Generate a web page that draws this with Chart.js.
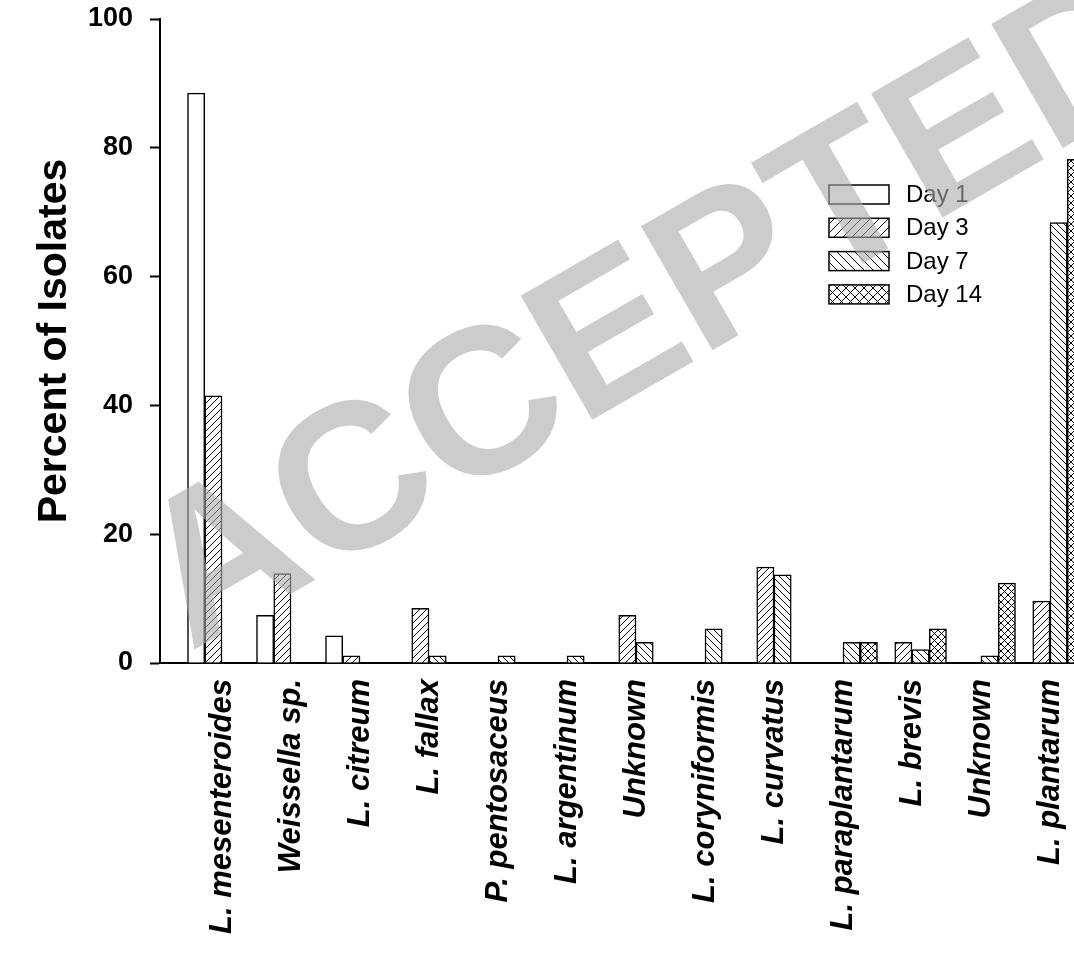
<!DOCTYPE html>
<html>
<head>
<meta charset="utf-8">
<script src="https://cdn.jsdelivr.net/npm/chart.js@4/dist/chart.umd.min.js"></script>
<style>
  html, body { margin: 0; padding: 0; background: #fff; overflow: hidden; }
  #wrap { position: relative; width: 1074px; height: 954px; }
</style>
</head>
<body>
<div id="wrap"><canvas id="c"></canvas></div>
<script>
// Isolate identities, percent of isolates per sampling day
const categories = [
  'L. mesenteroides', 'Weissella sp.', 'L. citreum', 'L. fallax',
  'P. pentosaceus', 'L. argentinum', 'Unknown', 'L. coryniformis',
  'L. curvatus', 'L. paraplantarum', 'L. brevis', 'Unknown', 'L. plantarum'
];
const seriesNames = ['Day 1', 'Day 3', 'Day 7', 'Day 14'];
const day1  = [88.5, 7.4, 4.2, null, null, null, null, null, null, null, null, null, null];
const day3  = [41.5, 13.9, 1.1, 8.5, null, null, 7.4, null, 14.9, null, 3.2, null, 9.6];
const day7  = [null, null, null, 1.1, 1.1, 1.1, 3.2, 5.3, 13.7, 3.2, 2.1, 1.1, 68.4];
const day14 = [null, null, null, null, null, null, null, null, null, 3.2, 5.3, 12.4, 78.2];
const yTickStep = 20;

const series = [day1, day3, day7, day14];
const FONT = "'Liberation Sans', Arial, Helvetica, sans-serif";

const canvas = document.getElementById('c');
const mainCtx = canvas.getContext('2d');

// Line hatch fills: 'up' = ////, 'down' = \\\\, 'cross' = xxxx
function hatch(kind, size) {
  if (kind === 'none') return '#ffffff';
  const t = document.createElement('canvas');
  t.width = t.height = size;
  const g = t.getContext('2d');
  g.fillStyle = '#fff';
  g.fillRect(0, 0, size, size);
  g.strokeStyle = '#000';
  g.lineWidth = 1;
  g.beginPath();
  if (kind === 'up' || kind === 'cross') {
    g.moveTo(-1, size + 1); g.lineTo(size + 1, -1);
    g.moveTo(-1, 1); g.lineTo(1, -1);
    g.moveTo(size - 1, size + 1); g.lineTo(size + 1, size - 1);
  }
  if (kind === 'down' || kind === 'cross') {
    g.moveTo(-1, -1); g.lineTo(size + 1, size + 1);
    g.moveTo(size - 1, -1); g.lineTo(size + 1, 1);
    g.moveTo(-1, size - 1); g.lineTo(1, size + 1);
  }
  g.stroke();
  return mainCtx.createPattern(t, 'repeat');
}

const kinds = ['none', 'up', 'down', 'cross'];
const barFills = kinds.map(k => hatch(k, 7));
const keyFills = kinds.map(k => hatch(k, 9));

// x axis runs in category units so the plot can start a little right of the y axis
const X_MIN = -0.8986;
const X_MAX = 12.348;

const keyAndStamp = {
  id: 'keyAndStamp',
  afterDraw(chart) {
    const ctx = chart.ctx;
    // series key
    ctx.save();
    const bx = 829, bw = 60, bh = 19, y0 = 185, pitch = 33.3;
    ctx.font = '24px ' + FONT;
    ctx.textBaseline = 'middle';
    ctx.textAlign = 'left';
    chart.data.datasets.forEach((ds, k) => {
      const y = y0 + k * pitch;
      ctx.fillStyle = keyFills[k];
      ctx.fillRect(bx, y, bw, bh);
      ctx.lineWidth = 1.5;
      ctx.strokeStyle = '#000';
      ctx.strokeRect(bx, y, bw, bh);
      ctx.fillStyle = '#000';
      ctx.fillText(ds.label, 906, y + bh / 2 + 1);
    });
    ctx.restore();

    // diagonal stamp across the plot
    ctx.save();
    ctx.translate(190, 652);
    ctx.rotate(-30 * Math.PI / 180);
    ctx.font = 'bold 208px ' + FONT;
    ctx.textBaseline = 'alphabetic';
    ctx.textAlign = 'left';
    ctx.fillStyle = 'rgba(170,170,170,0.6)';
    ctx.fillText('ACCEPTED', 0, 0);
    ctx.restore();
  }
};

new Chart(canvas, {
  type: 'bar',
  data: {
    datasets: seriesNames.map((name, k) => ({
      label: name,
      data: series[k].map((v, i) => ({ x: i, y: v })),
      backgroundColor: barFills[k],
      borderColor: '#000',
      borderWidth: 1.5,
      borderSkipped: 'start',
      categoryPercentage: 1,
      barPercentage: 1
    }))
  },
  options: {
    responsive: true,
    maintainAspectRatio: false,
    animation: false,
    layout: { padding: { top: 19, right: 0, bottom: 0, left: 0 } },
    plugins: { legend: { display: false }, tooltip: { enabled: false } },
    scales: {
      x: {
        type: 'linear',
        min: X_MIN,
        max: X_MAX,
        offset: false,
        afterBuildTicks: s => { s.ticks = categories.map((_, i) => ({ value: i })); },
        afterFit: s => { s.height = 291; s.paddingLeft = 0; s.paddingRight = 0; },
        grid: { display: false, drawTicks: false, offset: false },
        border: { display: true, color: '#000', width: 2 },
        ticks: {
          autoSkip: false,
          minRotation: 90,
          maxRotation: 90,
          padding: 16,
          color: '#000',
          font: { family: FONT, size: 31, weight: 'bold', style: 'italic' },
          callback: v => categories[v] ?? ''
        }
      },
      y: {
        min: 0,
        max: 100,
        afterFit: s => { s.width = 160; s.paddingTop = 0; s.paddingBottom = 0; },
        grid: { display: true, drawOnChartArea: false, drawTicks: true, tickLength: 10, tickColor: '#000', tickWidth: 2 },
        border: { display: true, color: '#000', width: 2 },
        ticks: {
          stepSize: yTickStep,
          padding: 17,
          color: '#000',
          font: { family: FONT, size: 27, weight: 'bold' }
        },
        title: {
          display: true,
          text: 'Percent of Isolates',
          color: '#000',
          font: { family: FONT, size: 41, weight: 'bold' },
          padding: { top: 30, bottom: 0 }
        }
      }
    }
  },
  plugins: [keyAndStamp]
});
</script>
</body>
</html>
